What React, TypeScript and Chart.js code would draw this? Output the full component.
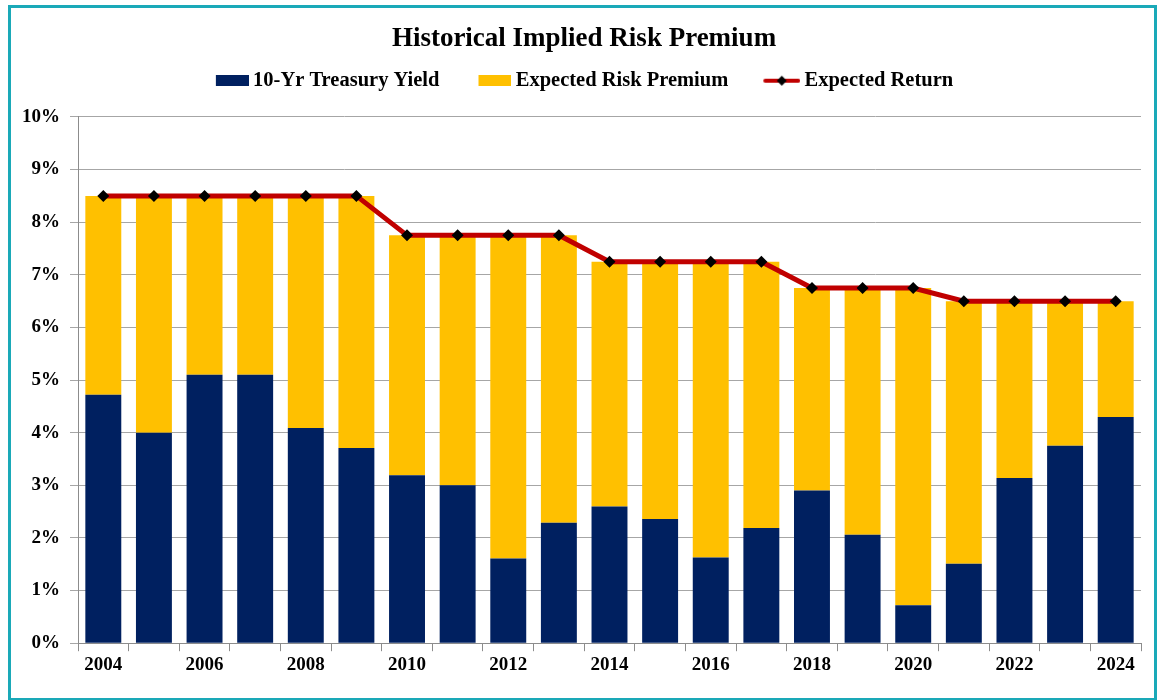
import React, { useEffect, useRef } from "react";
import { Chart, registerables } from "chart.js";

Chart.register(...registerables);

const years = [
  "2004", "2005", "2006", "2007", "2008", "2009", "2010", "2011", "2012", "2013", "2014",
  "2015", "2016", "2017", "2018", "2019", "2020", "2021", "2022", "2023", "2024",
];
const treasuryYield = [
  4.72, 4.0, 5.1, 5.1, 4.09, 3.71, 3.19, 3.0, 1.61, 2.29, 2.6,
  2.36, 1.63, 2.19, 2.9, 2.06, 0.72, 1.51, 3.14, 3.75, 4.3,
];
const riskPremium = [
  3.78, 4.5, 3.4, 3.4, 4.41, 4.79, 4.56, 4.75, 6.14, 5.46, 4.65,
  4.89, 5.62, 5.06, 3.85, 4.69, 6.03, 4.99, 3.36, 2.75, 2.2,
];
const expectedReturn = [
  8.5, 8.5, 8.5, 8.5, 8.5, 8.5, 7.75, 7.75, 7.75, 7.75, 7.25,
  7.25, 7.25, 7.25, 6.75, 6.75, 6.75, 6.5, 6.5, 6.5, 6.5,
];
const yTickLabels = ["0%", "1%", "2%", "3%", "4%", "5%", "6%", "7%", "8%", "9%", "10%"];
const seriesNames = ["10-Yr Treasury Yield", "Expected Risk Premium", "Expected Return"];

const NAVY = "#002060";
const GOLD = "#FFC000";
const RED = "#C00000";
const FONT = "'Liberation Serif', 'Times New Roman', serif";

const ICON_W = 40;

function rectIcon(color: string) {
  const c = document.createElement("canvas");
  c.width = ICON_W;
  c.height = 11;
  const ctx = c.getContext("2d")!;
  ctx.fillStyle = color;
  ctx.fillRect(ICON_W - 33, 0, 33, 11);
  return c;
}

function lineIcon() {
  const c = document.createElement("canvas");
  c.width = ICON_W;
  c.height = 12;
  const ctx = c.getContext("2d")!;
  const x0 = ICON_W - 37;
  ctx.strokeStyle = RED;
  ctx.lineWidth = 4;
  ctx.lineCap = "round";
  ctx.beginPath();
  ctx.moveTo(x0 + 2, 6);
  ctx.lineTo(x0 + 35, 6);
  ctx.stroke();
  ctx.fillStyle = "#000";
  const cx = x0 + 18.5;
  ctx.beginPath();
  ctx.moveTo(cx, 1);
  ctx.lineTo(cx + 5, 6);
  ctx.lineTo(cx, 11);
  ctx.lineTo(cx - 5, 6);
  ctx.closePath();
  ctx.fill();
  return c;
}

export default function App() {
  const canvasRef = useRef<HTMLCanvasElement | null>(null);

  useEffect(() => {
    document.body.style.margin = "0";
    const icons = [rectIcon(NAVY), rectIcon(GOLD), lineIcon()];
    const chart = new Chart(canvasRef.current!, {
      type: "bar",
      data: {
        labels: years,
        datasets: [
          {
            type: "line",
            label: seriesNames[2],
            data: expectedReturn,
            borderColor: RED,
            borderWidth: 5,
            pointStyle: "rectRot",
            pointRadius: 6,
            pointBackgroundColor: "#000",
            pointBorderColor: "#000",
            pointBorderWidth: 0,
            stack: "ret",
            order: 0,
          } as any,
          {
            label: seriesNames[0],
            data: treasuryYield,
            backgroundColor: NAVY,
            stack: "bars",
            order: 1,
            categoryPercentage: 1,
            barPercentage: 0.71,
          },
          {
            label: seriesNames[1],
            data: riskPremium,
            backgroundColor: GOLD,
            stack: "bars",
            order: 2,
            categoryPercentage: 1,
            barPercentage: 0.71,
          },
        ],
      },
      options: {
        animation: false,
        responsive: false,
        maintainAspectRatio: false,
        layout: { padding: { left: 10, right: 0, top: 0, bottom: 22 } },
        plugins: {
          tooltip: { enabled: false },
          title: {
            display: true,
            text: "Historical Implied Risk Premium",
            color: "#000",
            font: { family: FONT, size: 27, weight: "bold" },
            padding: { top: 22.4, bottom: -22.35 },
          },
          subtitle: {
            display: true,
            text: " ",
            font: { family: FONT, size: 10 },
            padding: { top: 0, bottom: 4 },
          },
          legend: {
            display: true,
            weight: 1800,
            labels: {
              usePointStyle: true,
              pointStyleWidth: 28,
              boxHeight: 12,
              padding: 38,
              color: "#000",
              font: { family: FONT, size: 20.5, weight: "bold" },
              generateLabels: () =>
                [1, 2, 0].map((di, k) => ({
                  text: seriesNames[k],
                  pointStyle: icons[k] as any,
                  datasetIndex: di,
                  hidden: false,
                  fillStyle: "#000",
                  strokeStyle: "#000",
                  lineWidth: 0,
                })),
            },
          } as any,
        },
        scales: {
          x: {
            stacked: true,
            offset: true,
            grid: {
              offset: true,
              drawOnChartArea: false,
              drawTicks: true,
              tickLength: 8,
              color: "#8c8c8c",
            },
            border: { color: "#8c8c8c", width: 1 },
            ticks: {
              autoSkip: false,
              maxRotation: 0,
              padding: 2,
              color: "#000",
              font: { family: FONT, size: 19, weight: "bold" },
              callback: (_v: any, i: number) => (i % 2 === 0 ? years[i] : ""),
            },
          },
          y: {
            stacked: true,
            min: 0,
            max: 10,
            afterFit: (scale: any) => {
              scale.width = 68;
            },
            grid: { color: "#a6a6a6", tickLength: 8, lineWidth: 1 },
            border: { color: "#8c8c8c", width: 1 },
            ticks: {
              stepSize: 1,
              padding: 10,
              color: "#000",
              font: { family: FONT, size: 19, weight: "bold" },
              callback: (v: any) => yTickLabels[Math.round(Number(v))],
            },
          },
          yRight: {
            position: "right",
            min: 0,
            max: 1,
            display: true,
            afterFit: (scale: any) => {
              scale.width = 17;
            },
            grid: { display: false, drawTicks: false },
            border: { display: false },
            ticks: { display: false },
          },
        },
      },
    });
    return () => chart.destroy();
  }, []);

  return (
    <div style={{ position: "relative", width: 1158, height: 700, background: "#fff" }}>
      <canvas
        ref={canvasRef}
        width={1158}
        height={700}
        style={{ position: "absolute", left: 0, top: 0, width: 1158, height: 700 }}
      />
      <div
        style={{
          position: "absolute",
          left: 8,
          top: 5,
          width: 1143,
          height: 690,
          border: "3px solid #1AA9B8",
          pointerEvents: "none",
        }}
      />
    </div>
  );
}
